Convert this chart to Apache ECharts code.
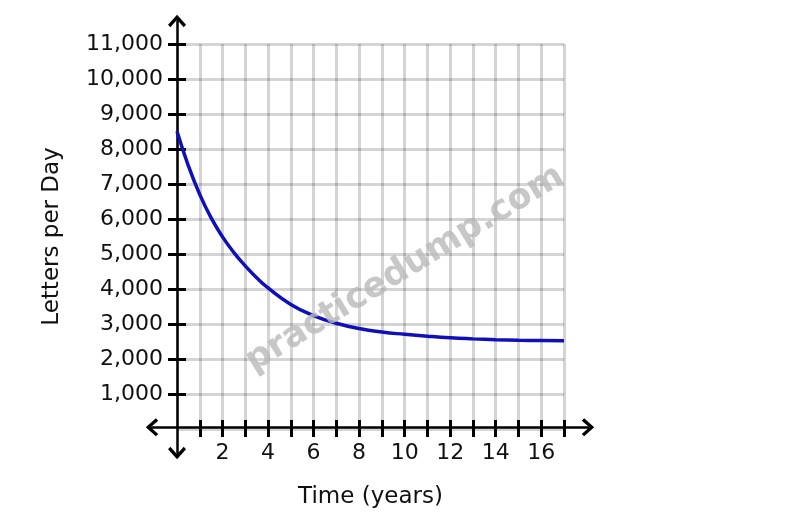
<!DOCTYPE html>
<html>
<head>
<meta charset="utf-8">
<script src="https://cdn.jsdelivr.net/npm/echarts@6/dist/echarts.min.js"></script>
<style>
  html, body { margin: 0; padding: 0; background: #fff; }
  #main { width: 806px; height: 527px; }
</style>
</head>
<body>
<div id="main"></div>
<script>
// data
var years   = [0, 0.5, 1, 1.5, 2, 2.5, 3, 3.5, 4, 5, 6, 7, 8, 9, 10, 11, 12, 13, 14, 15, 16, 17];
var letters = [8510, 7520, 6700, 6030, 5490, 5040, 4660, 4320, 4030, 3560, 3240, 3020, 2870, 2770, 2705, 2650, 2605, 2575, 2552, 2537, 2526, 2518];
var xTicks  = [1, 2, 3, 4, 5, 6, 7, 8, 9, 10, 11, 12, 13, 14, 15, 16, 17];
var xLabels = [2, 4, 6, 8, 10, 12, 14, 16];
var yTicks  = [1000, 2000, 3000, 4000, 5000, 6000, 7000, 8000, 9000, 10000, 11000];

var font = 'DejaVu Sans';
var gridLine = { color: 'rgba(0,0,0,0.17)', width: 3 };
var tickLine = { color: '#000', width: 3 };
var chevron = 'path://M5,0 L10,5.6 L8.7,6.9 L5,2.7 L1.3,6.9 L0,5.6 Z';

var points = years.map(function (x, i) { return [x, letters[i]]; });

var myChart = echarts.init(document.getElementById('main'));

var option = {
    backgroundColor: '#fff',
    animation: false,
    textStyle: { fontFamily: font },
    grid: [
        // plot area with the grid lines
        { left: 177, right: 242, top: 44, bottom: 98, containLabel: false },
        // larger box only for the arrowed axis lines
        { left: 152, right: 218, top: 21, bottom: 74, containLabel: false }
    ],
    xAxis: [{
        gridIndex: 0, type: 'value', min: 0, max: 17, interval: 1,
        axisLine: { show: false },
        axisTick: { show: false },
        axisLabel: { customValues: xLabels, margin: 13, fontSize: 22, color: '#111', fontFamily: font },
        splitLine: { show: true, lineStyle: gridLine },
        name: 'Time (years)', nameLocation: 'middle', nameGap: 57,
        nameTextStyle: { fontSize: 23, color: '#111', fontFamily: font }
    }, {
        // ticks crossing the axis line
        gridIndex: 0, type: 'value', min: 0, max: 17, interval: 1, position: 'bottom', offset: -9,
        axisLine: { show: false, onZero: false },
        axisTick: { show: true, inside: false, length: 17, customValues: xTicks, lineStyle: tickLine },
        axisLabel: { show: false }, splitLine: { show: false }
    }, {
        gridIndex: 1, type: 'value', min: -1.1, max: 18.05, z: 5,
        axisLine: { show: true, onZero: true, symbol: [chevron, chevron], symbolSize: [18, 13],
                    lineStyle: { color: '#000', width: 2.5 } },
        axisTick: { show: false }, axisLabel: { show: false }, splitLine: { show: false }
    }],
    yAxis: [{
        gridIndex: 0, type: 'value', min: 0, max: 11000, interval: 1000,
        axisLine: { show: false },
        axisTick: { show: false },
        axisLabel: {
            customValues: yTicks, margin: 14, fontSize: 22, color: '#111', fontFamily: font,
            formatter: function (v) { return v.toLocaleString('en-US'); }
        },
        splitLine: { show: true, lineStyle: gridLine },
        name: 'Letters per Day', nameLocation: 'middle', nameGap: 113,
        nameTextStyle: { fontSize: 23, color: '#111', fontFamily: font }
    }, {
        // ticks crossing the axis line
        gridIndex: 0, type: 'value', min: 0, max: 11000, interval: 1000, position: 'left', offset: -9,
        axisLine: { show: false, onZero: false },
        axisTick: { show: true, inside: false, length: 18, customValues: yTicks, lineStyle: tickLine },
        axisLabel: { show: false }, splitLine: { show: false }
    }, {
        gridIndex: 1, type: 'value', min: -740, max: 11700, z: 5,
        axisLine: { show: true, onZero: true, symbol: [chevron, chevron], symbolSize: [18, 13],
                    lineStyle: { color: '#000', width: 2.5 } },
        axisTick: { show: false }, axisLabel: { show: false }, splitLine: { show: false }
    }],
    graphic: [{
        type: 'text', z: 10,
        x: 405, y: 269, rotation: 31.4 * Math.PI / 180,
        style: {
            text: 'practicedump.com', font: 'bold 35px "DejaVu Sans"',
            fill: 'rgba(185,185,185,0.8)', textAlign: 'center', textVerticalAlign: 'middle'
        }
    }],
    series: [{
        type: 'line', xAxisIndex: 0, yAxisIndex: 0,
        data: points, smooth: true, showSymbol: false, z: 6,
        lineStyle: { color: '#1010b8', width: 3.5 }
    }]
};

myChart.setOption(option);
</script>
</body>
</html>
